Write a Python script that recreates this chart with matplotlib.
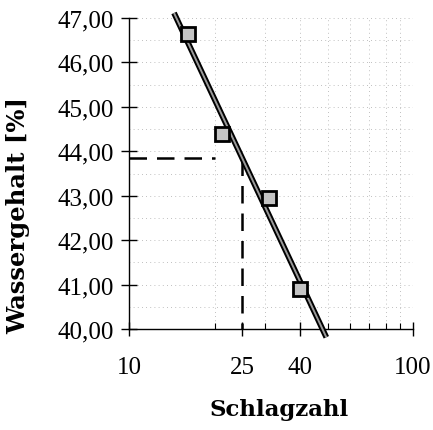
import numpy as np
import matplotlib
matplotlib.use("Agg")
import matplotlib.pyplot as plt
from matplotlib.ticker import FuncFormatter, FixedLocator

# Messwerte (Fließgrenze nach Casagrande)
schlagzahl = [16.1, 21.2, 31.2, 40.0]
wassergehalt = [46.64, 44.40, 42.95, 40.91]

# Bereich der Ausgleichsgeraden und Ablesestelle
fit_range = [14.4, 49.5]
read_at = 25

x_ticks = [10, 25, 40, 100]
x_minor = [20, 30, 40, 50, 60, 70, 80, 90]
y_ticks = [40, 41, 42, 43, 44, 45, 46, 47]

plt.rcParams['font.family'] = ['Liberation Serif', 'DejaVu Serif']

fig = plt.figure(figsize=(4.33, 4.31), dpi=100)
ax = fig.add_axes([0.298, 0.234, 0.656, 0.722])
ax.set_xscale('log')
ax.set_xlim(10, 100)
ax.set_ylim(40, 47)

# grid
for xv in x_minor:
    ax.axvline(xv, color='#aaaaaa', lw=0.6, ls=(0, (1, 4)), zorder=0)
for yv in np.arange(40.5, 47.01, 0.5):
    ax.axhline(yv, color='#aaaaaa', lw=0.6, ls=(0, (1, 4)), zorder=0)

# regression line in log(x)
b, a = np.polyfit(np.log10(schlagzahl), wassergehalt, 1)
fx = np.array(fit_range)
fy = a + b * np.log10(fx)
ax.plot(fx, fy, color='black', lw=4.2, solid_capstyle='butt', zorder=3, clip_on=False)
ax.plot(fx, fy, color='#9a9a9a', lw=1.4, solid_capstyle='butt', zorder=3, clip_on=False)

# read-off at 25 blows
w25 = a + b * np.log10(read_at)
ax.plot([10, 20], [w25, w25], color='black', lw=1.8, ls=(0, (7, 4)), zorder=2)
ax.plot([read_at, read_at], [w25, 40], color='black', lw=1.8, ls=(0, (7, 4)), zorder=2)

ax.plot(schlagzahl, wassergehalt, ls='none', marker='s', ms=10,
        mfc='#c4c4c4', mec='black', mew=2.0, zorder=4)

for s in ['top', 'right']:
    ax.spines[s].set_visible(False)
ax.spines['left'].set_linewidth(1.0)
ax.spines['bottom'].set_linewidth(1.0)

ax.xaxis.set_major_locator(FixedLocator(x_ticks))
ax.xaxis.set_minor_locator(FixedLocator(x_minor))
ax.xaxis.set_major_formatter(FuncFormatter(lambda v, p: f"{v:g}"))
ax.xaxis.set_minor_formatter(FuncFormatter(lambda v, p: ""))
ax.set_yticks(y_ticks)
ax.yaxis.set_major_formatter(FuncFormatter(lambda v, p: f"{v:.2f}".replace('.', ',')))

ax.tick_params(axis='y', which='major', direction='inout', length=12, width=1.0,
               labelsize=18, pad=5)
ax.tick_params(axis='x', which='major', direction='inout', length=10, width=1.0,
               labelsize=18, pad=14)
ax.tick_params(axis='x', which='minor', direction='in', length=4, width=0.8)

ax.set_xlabel('Schlagzahl', fontsize=16.5, fontweight='bold', family='DejaVu Serif')
ax.set_ylabel('Wassergehalt [%]', fontsize=17.5, fontweight='bold', family='DejaVu Serif')
ax.xaxis.set_label_coords(0.53, -0.22)
ax.yaxis.label.set_va('center')
ax.yaxis.set_label_coords(-0.39, 0.37)

fig.savefig('out.png', dpi=100)
